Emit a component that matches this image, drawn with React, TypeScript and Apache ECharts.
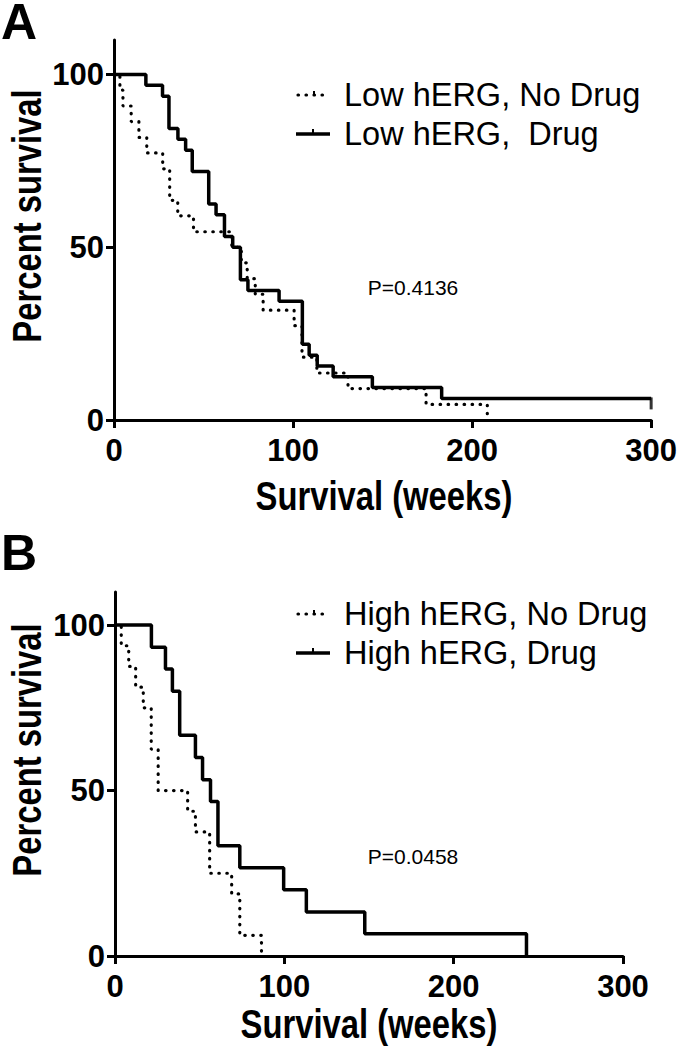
import React, { useEffect, useRef } from "react";
import * as echarts from "echarts";

// Panel A: Low hERG
const lowNoDrugWeeks = [0, 3.3, 5, 9.6, 13.9, 18.3, 27.2, 31.1, 35.6, 44.4, 65.8, 71.1, 74.4, 78.9, 83.3, 100.6, 105, 113.3, 130.7, 174.3, 208.5];
const lowNoDrugPct = [100, 95.5, 90.9, 86.4, 81.8, 77.3, 72.7, 63.6, 59.1, 54.5, 50, 45.5, 40.9, 36.4, 31.8, 27.3, 18.2, 13.6, 9.1, 4.5, 0];
const lowDrugWeeks = [0, 17.8, 27.1, 30.7, 35.7, 40, 43.7, 52.9, 57, 61.7, 66.3, 70.6, 74.8, 92.2, 105.2, 109, 113.5, 122.4, 144.3, 183, 300];
const lowDrugPct = [100, 96.9, 93.75, 84.4, 81.25, 78.1, 71.9, 62.5, 59.4, 53.1, 50, 40.6, 37.5, 34.4, 21.9, 18.75, 15.6, 12.5, 9.4, 6.25, 6.25];
const lowDrugCensored = [[300, 6.25]];

// Panel B: High hERG
const highNoDrugWeeks = [0, 3.7, 8.1, 12.2, 16.7, 21.4, 25.5, 42.9, 47.5, 55.9, 68.9, 73.7, 86.5];
const highNoDrugPct = [100, 93.75, 87.5, 81.25, 75, 62.5, 50, 43.75, 37.5, 25, 18.75, 6.25, 0];
const highDrugWeeks = [0, 21.5, 29.8, 33.9, 38.2, 47.5, 51.7, 56.4, 60.8, 73.7, 99.6, 113, 147.5, 243];
const highDrugPct = [100, 93.3, 86.7, 80, 66.7, 60, 53.3, 46.7, 33.3, 26.7, 20, 13.3, 6.7, 0];

const xTicks = [0, 100, 200, 300];
const yTicks = [0, 50, 100];
const pValueA = "P=0.4136";
const pValueB = "P=0.0458";
const legendA = ["Low hERG, No Drug", "Low hERG,  Drug"];
const legendB = ["High hERG, No Drug", "High hERG, Drug"];

const SANS = "'Liberation Sans', Arial, sans-serif";

const zip = (xs: number[], ys: number[]) => xs.map((x, i) => [x, ys[i]]);

function xAxisFor(gridIndex: number) {
  return {
    type: "value",
    gridIndex,
    min: 0,
    max: 300,
    interval: 100,
    axisLine: { show: true, onZero: false, lineStyle: { color: "#000", width: 3 } },
    axisTick: { show: true, length: 8, lineStyle: { color: "#000", width: 3 }, customValues: xTicks },
    axisLabel: {
      color: "#000",
      fontFamily: SANS,
      fontWeight: "bold",
      fontSize: 31,
      margin: 15,
      customValues: xTicks,
    },
    splitLine: { show: false },
  };
}

function yAxisFor(gridIndex: number) {
  return {
    type: "value",
    gridIndex,
    min: 0,
    max: 110,
    interval: 50,
    axisLine: { show: true, lineStyle: { color: "#000", width: 3 } },
    axisTick: { show: true, length: 8, lineStyle: { color: "#000", width: 3 }, customValues: yTicks },
    axisLabel: {
      color: "#000",
      fontFamily: SANS,
      fontWeight: "bold",
      fontSize: 31,
      margin: 10,
      customValues: yTicks,
    },
    splitLine: { show: false },
  };
}

function dotted(name: string, data: number[][], idx: number) {
  return {
    name,
    type: "line",
    step: "end",
    xAxisIndex: idx,
    yAxisIndex: idx,
    data,
    symbol: "none",
    lineStyle: { color: "#000", width: 3.2, type: [0.5, 7.5], cap: "round" },
    z: 2,
  };
}

function solid(name: string, data: number[][], idx: number) {
  return {
    name,
    type: "line",
    step: "end",
    xAxisIndex: idx,
    yAxisIndex: idx,
    data,
    symbol: "none",
    lineStyle: { color: "#000", width: 3.5, type: "solid" },
    z: 3,
  };
}

function legendGraphics(labels: string[], y1: number, y2: number) {
  return [
    {
      type: "line",
      shape: { x1: 298, y1: y1, x2: 326, y2: y1 },
      style: { stroke: "#000", lineWidth: 3.2, lineDash: [0.5, 7.5], lineCap: "round" },
    },
    {
      type: "line",
      shape: { x1: 314, y1: y1 - 4, x2: 314, y2: y1 },
      style: { stroke: "#000", lineWidth: 2 },
    },
    {
      type: "text",
      x: 344,
      y: y1,
      style: { text: labels[0], font: `32.5px ${SANS}`, fill: "#000", textVerticalAlign: "middle" },
    },
    {
      type: "line",
      shape: { x1: 296, y1: y2, x2: 330, y2: y2 },
      style: { stroke: "#000", lineWidth: 3.5 },
    },
    {
      type: "line",
      shape: { x1: 313, y1: y2 - 5, x2: 313, y2: y2 },
      style: { stroke: "#000", lineWidth: 2 },
    },
    {
      type: "text",
      x: 344,
      y: y2,
      style: { text: labels[1], font: `32.5px ${SANS}`, fill: "#000", textVerticalAlign: "middle" },
    },
  ];
}

function textAt(text: string, x: number, y: number, font: string, rotation = 0, align = "center", scaleX = 1) {
  return {
    type: "text",
    x,
    y,
    rotation,
    scaleX,
    style: { text, font, fill: "#000", textAlign: align, textVerticalAlign: "middle" },
  };
}

export default function App() {
  const ref = useRef<HTMLDivElement>(null);
  useEffect(() => {
    if (!ref.current) return;
    const chart = echarts.init(ref.current, null, { renderer: "svg" });
    const option = {
      animation: false,
      backgroundColor: "#fff",
      grid: [
        { left: 114, top: 40, width: 539, height: 380, containLabel: false },
        { left: 115, top: 592, width: 508, height: 364, containLabel: false },
      ],
      xAxis: [xAxisFor(0), xAxisFor(1)],
      yAxis: [yAxisFor(0), yAxisFor(1)],
      series: [
        dotted(legendA[0], zip(lowNoDrugWeeks, lowNoDrugPct), 0),
        solid(legendA[1], zip(lowDrugWeeks, lowDrugPct), 0),
        {
          name: "censored",
          type: "scatter",
          xAxisIndex: 0,
          yAxisIndex: 0,
          data: lowDrugCensored,
          symbol: "rect",
          symbolSize: [3, 12],
          symbolOffset: [0, 5],
          itemStyle: { color: "#000" },
          z: 4,
        },
        dotted(legendB[0], zip(highNoDrugWeeks, highNoDrugPct), 1),
        solid(legendB[1], zip(highDrugWeeks, highDrugPct), 1),
      ],
      graphic: [
        textAt("A", 1, 22, `bold 50px ${SANS}`, 0, "left"),
        textAt("B", 1, 553, `bold 50px ${SANS}`, 0, "left"),
        textAt("Percent survival", 27, 216, `bold 40px ${SANS}`, Math.PI / 2, "center", 0.82),
        textAt("Percent survival", 27, 750, `bold 40px ${SANS}`, Math.PI / 2, "center", 0.82),
        textAt("Survival (weeks)", 384, 496, `bold 40px ${SANS}`, 0, "center", 0.82),
        textAt("Survival (weeks)", 369, 1024, `bold 40px ${SANS}`, 0, "center", 0.82),
        textAt(pValueA, 413, 287, `21px ${SANS}`),
        textAt(pValueB, 413, 856, `21px ${SANS}`),
        ...legendGraphics(legendA, 95, 134),
        ...legendGraphics(legendB, 614, 653),
      ],
    };
    chart.setOption(option as any);
    return () => chart.dispose();
  }, []);
  return (
    <div
      ref={ref}
      style={{ position: "absolute", left: 0, top: 0, width: 680, height: 1050, background: "#fff" }}
    />
  );
}
